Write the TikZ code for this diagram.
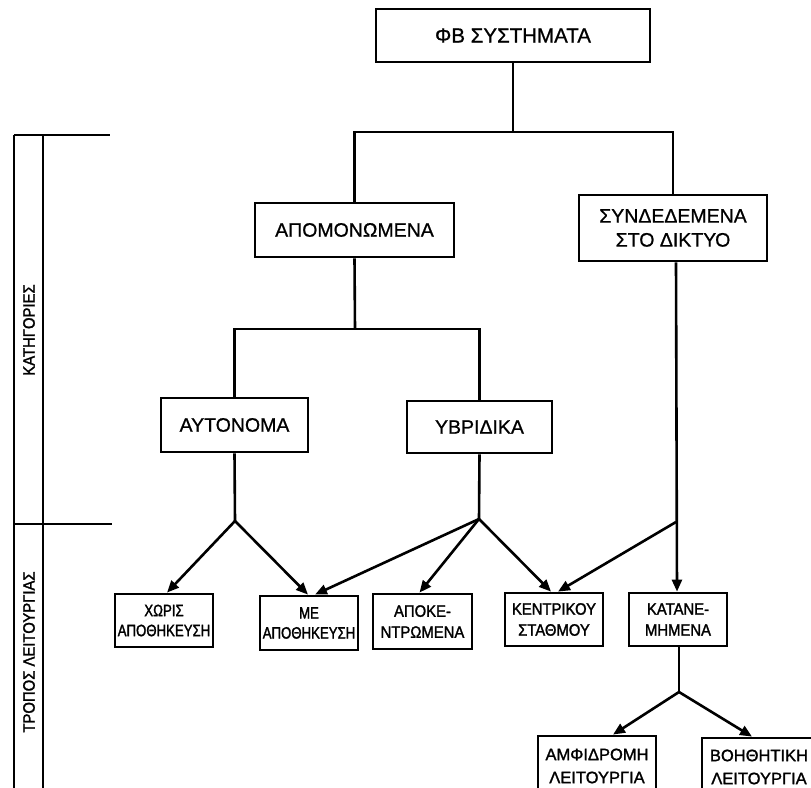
\documentclass[tikz,border=0pt]{standalone}
\usepackage{fontspec}
\setmainfont{Liberation Sans}
\newfontfamily\boxfont[FakeBold=0.8]{Liberation Sans}
\newfontfamily\narrowfont[FakeStretch=0.8,FakeBold=1.6]{Liberation Sans}
\newfontfamily\smallfont[FakeStretch=0.9,FakeBold=1.6]{Liberation Sans}
\newfontfamily\lowfont[FakeBold=1.4]{Liberation Sans}
\newfontfamily\railfont[FakeStretch=0.9,FakeBold=1.6]{Liberation Sans}
\usetikzlibrary{arrows.meta,calc}

\tikzset{
  box/.style={draw, line width=2.8pt, rectangle, inner sep=0pt, align=center},
  bigbox/.style={box, font={\boxfont\fontsize{20.5}{24}\selectfont}},
  midbox/.style={box, font={\boxfont\fontsize{19.5}{24}\selectfont}},
  narrowbox/.style={box, font={\narrowfont\fontsize{16.5}{20}\selectfont}},
  smallbox/.style={box, font={\smallfont\fontsize{16.5}{21}\selectfont}},
  lowbox/.style={box, font={\lowfont\fontsize{16.5}{23}\selectfont}},
  link/.style={line width=2.6pt},
  arr/.style={link, -{Triangle[length=12pt,width=10pt]}},
  rail/.style={line width=2.6pt},
  railtext/.style={font={\railfont\fontsize{16.5}{18}\selectfont}, rotate=90, inner sep=0pt}
}

\begin{document}
\begin{tikzpicture}[x=1pt, y=-1pt]
\useasboundingbox (0,0) rectangle (811,787);
\fill[white] (0,0) rectangle (811,787);

% side rail with the two row headings
\coordinate (r1top) at (14,135);
\coordinate (r2top) at (43,135);
\coordinate (r1bot) at (14,800);
\coordinate (r2bot) at (43,800);
\coordinate (cut1) at (110,135);
\coordinate (cut2l) at (14,524);
\coordinate (cut2) at (112,524);
\draw[rail] (r1top) -- (r1bot);
\draw[rail] (r2top) -- (r2bot);
\draw[rail] (r1top) -- (cut1);
\draw[rail] (cut2l) -- (cut2);
\node[railtext] (cat) at (29,330) {ΚΑΤΗΓΟΡΙΕΣ};
\node[railtext] (mode) at (29,652) {ΤΡΟΠΟΣ ΛΕΙΤΟΥΡΓΙΑΣ};

% boxes
\node[bigbox, minimum width=274pt, minimum height=53pt] (top) at (513,35.5) {ΦΒ ΣΥΣΤΗΜΑΤΑ};
\node[midbox, minimum width=199pt, minimum height=54pt] (apo) at (354.5,230) {ΑΠΟΜΟΝΩΜΕΝΑ};
\node[midbox, minimum width=188pt, minimum height=66pt] (synd) at (673,228) {ΣΥΝΔΕΔΕΜΕΝΑ\\ΣΤΟ ΔΙΚΤΥΟ};
\node[midbox, minimum width=147pt, minimum height=54pt] (auto) at (234.5,425) {ΑΥΤΟΝΟΜΑ};
\node[midbox, minimum width=145pt, minimum height=52pt] (hybr) at (479.5,427) {ΥΒΡΙΔΙΚΑ};

\node[narrowbox, minimum width=98pt, minimum height=53pt] (xoris) at (164,620.5) {ΧΩΡΙΣ\\ΑΠΟΘΗΚΕΥΣΗ};
\node[narrowbox, minimum width=98pt, minimum height=54pt] (me) at (309,623) {ΜΕ\\ΑΠΟΘΗΚΕΥΣΗ};
\node[smallbox, minimum width=99pt, minimum height=55pt] (apoke) at (422.5,621.5) {ΑΠΟΚΕ-\\ΝΤΡΩΜΕΝΑ};
\node[smallbox, minimum width=98pt, minimum height=53pt] (kentr) at (554,619.5) {ΚΕΝΤΡΙΚΟΥ\\ΣΤΑΘΜΟΥ};
\node[smallbox, minimum width=98pt, minimum height=53pt] (katan) at (678,619.5) {ΚΑΤΑΝΕ-\\ΜΗΜΕΝΑ};

\node[lowbox, minimum width=118pt, minimum height=60pt] (amfi) at (597,766) {ΑΜΦΙΔΡΟΜΗ\\ΛΕΙΤΟΥΡΓΙΑ};
\node[lowbox, minimum width=114pt, minimum height=58pt] (voith) at (759,767) {ΒΟΗΘΗΤΙΚΗ\\ΛΕΙΤΟΥΡΓΙΑ};

% junction points
\coordinate (j1) at (513,132);
\coordinate (j2) at (355,329);
\coordinate (b1) at (235,521);
\coordinate (b2) at (479,519);
\coordinate (b3) at (676,522);
\coordinate (b4) at (679,692);

% categories: plain tree lines
\draw[link] (top.south) -- (j1);
\draw[link] (apo.north) |- (j1) -| (synd.north);
\draw[link] (apo.south) -- (j2);
\draw[link] (auto.north) |- (j2) -| (hybr.north);

% modes of operation: arrows
\draw[link] (auto.south) -- (b1);
\draw[arr] (b1) -- ([xshift=3pt]xoris.north);
\draw[arr] (b1) -- ([xshift=-1pt]me.north);
\draw[link] (hybr.south) -- (b2);
\draw[arr] (b2) -- ([xshift=6pt]me.north);
\draw[arr] (b2) -- ([xshift=-3pt]apoke.north);
\draw[arr] (b2) -- ([xshift=-3pt]kentr.north);
\draw[arr] (synd.south -| b3) -- ([xshift=-1pt]katan.north);
\draw[arr] (b3) -- ([xshift=4pt]kentr.north);
\draw[link] (katan.south -| b4) -- (b4);
\draw[arr] (b4) -- ([xshift=16pt]amfi.north);
\draw[arr] (b4) -- ([xshift=-7pt]voith.north);
\end{tikzpicture}
\end{document}
